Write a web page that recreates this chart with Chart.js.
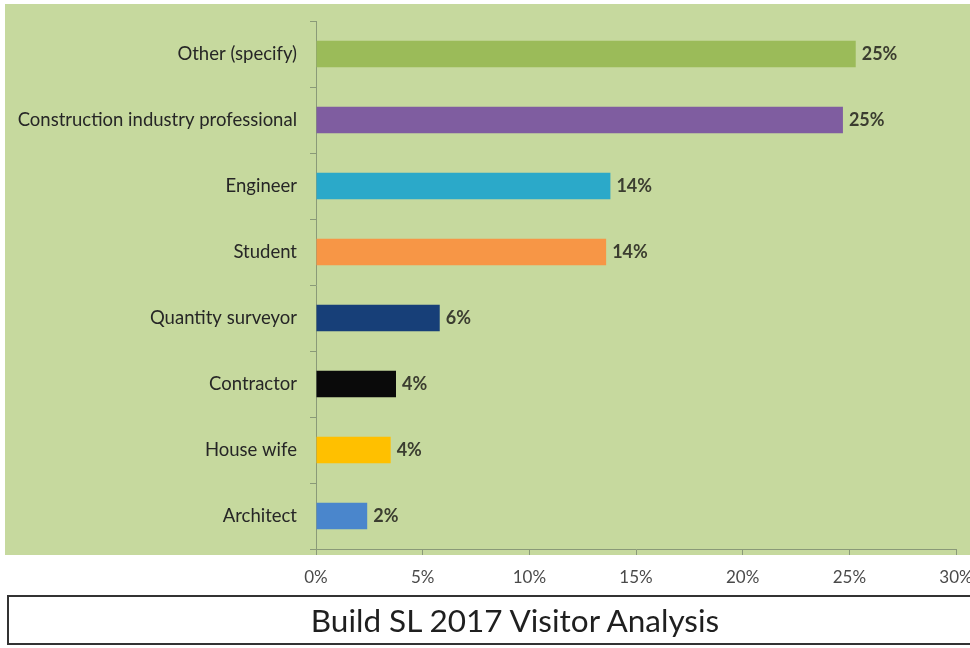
<!DOCTYPE html>
<html>
<head>
<meta charset="utf-8">
<script src="https://cdn.jsdelivr.net/npm/chart.js@4/dist/chart.umd.min.js"></script>
<style>
  html, body { margin: 0; padding: 0; background: #ffffff; }
  body { width: 970px; height: 648px; position: relative; overflow: hidden; }
  #wrap { position: absolute; left: 0; top: 0; width: 970px; height: 600px; }
  #title {
    position: absolute; left: 7px; top: 595px; width: 970px; height: 50px;
    border: 2px solid #333; box-sizing: border-box; border-right: none;
    font-family: "Lato", sans-serif; font-size: 31.5px; color: #1f1f1f;
    text-align: center; line-height: 46px; padding-left: 44px;
  }
</style>
</head>
<body>
<div id="wrap"><canvas id="c"></canvas></div>
<div id="title">Build SL 2017 Visitor Analysis</div>
<script>
const categories = ["Other (specify)", "Construction industry professional", "Engineer", "Student", "Quantity surveyor", "Contractor", "House wife", "Architect"];
const values = [25.3, 24.7, 13.8, 13.6, 5.8, 3.75, 3.5, 2.4];
const valueLabels = ["25%", "25%", "14%", "14%", "6%", "4%", "4%", "2%"];
const barColors = ["#9bbb59", "#7f5da0", "#2ba9c9", "#f79646", "#173f78", "#0a0a0a", "#ffc000", "#4a86cc"];
const xTicks = [0, 5, 10, 15, 20, 25, 30];

const FONT = "'Lato', sans-serif";

const bgPlugin = {
  id: 'bg',
  beforeDraw(chart) {
    const ctx = chart.ctx;
    ctx.save();
    ctx.fillStyle = '#c6d99e';
    ctx.fillRect(5, 4, chart.width - 5, 551);
    ctx.restore();
  }
};

const labelPlugin = {
  id: 'valueLabels',
  afterDatasetsDraw(chart) {
    const ctx = chart.ctx;
    const meta = chart.getDatasetMeta(0);
    ctx.save();
    ctx.font = "bold 18px " + FONT;
    ctx.fillStyle = '#3b3d30';
    ctx.textAlign = 'left';
    ctx.textBaseline = 'middle';
    meta.data.forEach((bar, i) => {
      ctx.fillText(valueLabels[i], bar.x + 6, bar.y);
    });
    ctx.restore();
  }
};

new Chart(document.getElementById('c'), {
  type: 'bar',
  data: {
    labels: categories,
    datasets: [{
      data: values,
      backgroundColor: barColors,
      borderWidth: 0,
      categoryPercentage: 1.0,
      barPercentage: 0.4
    }]
  },
  options: {
    indexAxis: 'y',
    responsive: true,
    maintainAspectRatio: false,
    animation: false,
    layout: { padding: { top: 21, right: 14, bottom: 0, left: 0 } },
    plugins: { legend: { display: false }, tooltip: { enabled: false } },
    scales: {
      x: {
        min: 0, max: 30,
        afterFit(scale) { scale.height = 51; scale.paddingRight = 0; scale.paddingLeft = 0; },
        ticks: {
          stepSize: 5,
          color: '#4a4a4a',
          font: { family: FONT, size: 17 },
          padding: 12,
          maxRotation: 0,
          callback: v => xTicks.includes(v) ? v + '%' : ''
        },
        grid: { drawOnChartArea: false, tickLength: 6, color: '#8a9a78' },
        border: { display: true, color: '#8a9a78', width: 1 }
      },
      y: {
        afterFit(scale) { scale.width = 316; scale.paddingTop = 0; scale.paddingBottom = 0; },
        ticks: {
          color: '#262626',
          font: { family: FONT, size: 18.5 },
          padding: 13
        },
        grid: { drawOnChartArea: false, offset: true, tickLength: 6, color: '#8a9a78' },
        border: { display: true, color: '#8a9a78', width: 1 }
      }
    }
  },
  plugins: [bgPlugin, labelPlugin]
});
</script>
</body>
</html>
